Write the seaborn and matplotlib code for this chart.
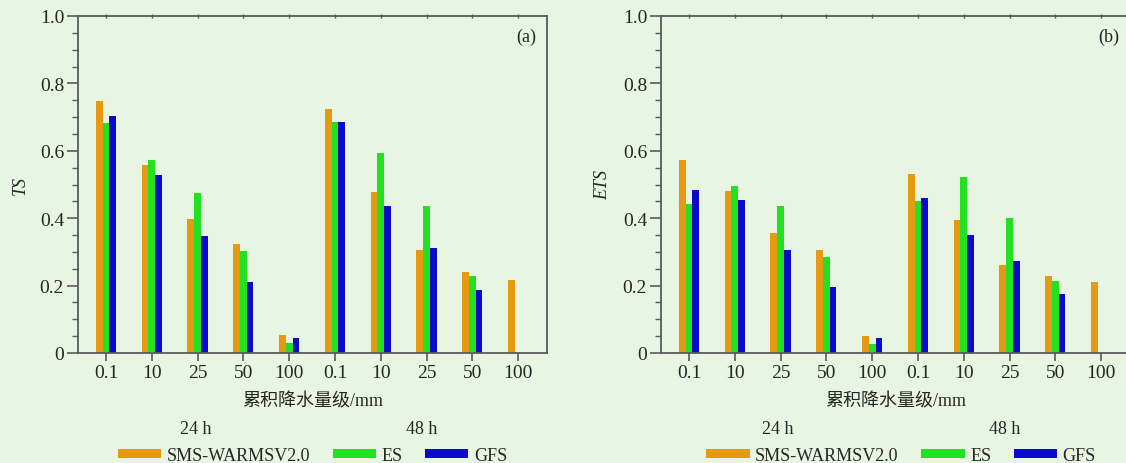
import numpy as np
import pandas as pd
import matplotlib
matplotlib.use("Agg")
import matplotlib.pyplot as plt
import seaborn as sns
from matplotlib.patches import Patch
from matplotlib.ticker import MultipleLocator, FuncFormatter

# ---------------- data ----------------
categories = ["24h-0.1", "24h-10", "24h-25", "24h-50", "24h-100",
              "48h-0.1", "48h-10", "48h-25", "48h-50", "48h-100"]
tick_labels = ["0.1", "10", "25", "50", "100", "0.1", "10", "25", "50", "100"]
models = ["SMS-WARMSV2.0", "ES", "GFS"]

ts_sms = [0.747, 0.557, 0.398, 0.324, 0.053, 0.723, 0.478, 0.306, 0.239, 0.216]
ts_es = [0.683, 0.572, 0.476, 0.302, 0.029, 0.686, 0.593, 0.437, 0.229, np.nan]
ts_gfs = [0.703, 0.529, 0.348, 0.212, 0.045, 0.686, 0.437, 0.311, 0.187, np.nan]

ets_sms = [0.572, 0.480, 0.355, 0.306, 0.051, 0.531, 0.396, 0.262, 0.229, 0.211]
ets_es = [0.442, 0.497, 0.437, 0.285, 0.026, 0.451, 0.522, 0.400, 0.214, np.nan]
ets_gfs = [0.485, 0.454, 0.307, 0.197, 0.044, 0.460, 0.351, 0.274, 0.174, np.nan]

period_labels = ["24 h", "48 h"]
panel_tags = ["(a)", "(b)"]
ylabels = ["TS", "ETS"]
xlabel = "累积降水量级/mm"

colors = {"SMS-WARMSV2.0": "#E59A12", "ES": "#22E022", "GFS": "#0A0ACB"}
bg = "#E8F5E2"


def long_df(a, b, c):
    rows = []
    for m, vals in zip(models, [a, b, c]):
        for cat, v in zip(categories, vals):
            rows.append({"cat": cat, "model": m, "value": v})
    return pd.DataFrame(rows)


sns.set_style("ticks")
plt.rcParams["font.family"] = ["Liberation Serif", "Noto Sans CJK SC"]
plt.rcParams["font.size"] = 12

fig = plt.figure(figsize=(11.26, 4.64), dpi=100, facecolor=bg)

W, H = 1126, 464
ax_w = 469 / W
ax_b = 1 - 354 / H
ax_h = (354 - 17) / H
lefts = [78 / W, 661 / W]
legend_dx = [0.0, 0.012]

datasets = [long_df(ts_sms, ts_es, ts_gfs), long_df(ets_sms, ets_es, ets_gfs)]

spine_col = "#5a5a5a"
for i in range(2):
    ax = fig.add_axes([lefts[i], ax_b, ax_w, ax_h])
    ax.set_facecolor(bg)
    sns.barplot(data=datasets[i], x="cat", y="value", hue="model",
                order=categories, hue_order=models, palette=colors,
                width=0.44, linewidth=0, legend=False, ax=ax,
                errorbar=None, saturation=1)
    ax.set_xlim(-0.61, 9.63)
    ax.set_ylim(0, 1.0)
    ax.set_xticks(range(len(categories)))
    ax.set_xticklabels(tick_labels, fontsize=14)
    ax.yaxis.set_major_locator(MultipleLocator(0.2))
    ax.yaxis.set_minor_locator(MultipleLocator(0.05))
    ax.yaxis.set_major_formatter(FuncFormatter(lambda v, p: "0" if abs(v) < 1e-9 else f"{v:.1f}"))
    ax.tick_params(axis="y", which="major", length=8, width=1.2, color=spine_col,
                   labelsize=14, pad=2)
    ax.tick_params(axis="y", which="minor", length=4, width=1.0, color=spine_col)
    ax.tick_params(axis="x", which="major", length=6, width=1.2, color=spine_col,
                   labelsize=14, pad=2)
    top = ax.secondary_xaxis("top")
    top.set_xticks(range(len(categories)))
    top.set_xticklabels([])
    top.tick_params(length=3, width=1.0, color=spine_col, direction="inout")
    top.spines["top"].set_visible(False)
    for s in ax.spines.values():
        s.set_color(spine_col)
        s.set_linewidth(1.3)
    ax.set_xlabel("")
    ax.set_ylabel(ylabels[i], fontstyle="italic", fontsize=13, labelpad=8)
    ax.text(0.977, 0.94, panel_tags[i], transform=ax.transAxes,
            ha="right", va="center", fontsize=13)
    ax.text(0.5, -0.142, xlabel, transform=ax.transAxes, ha="center",
            va="center", fontsize=13,
            family=["Liberation Serif", "Noto Sans CJK SC"])
    for xp, lab in zip([1.95, 6.9], period_labels):
        ax.text(xp, -0.223, lab, transform=ax.get_xaxis_transform(),
                ha="center", va="center", fontsize=13)
    handles = [Patch(facecolor=colors[m], edgecolor="none", label=m) for m in models]
    leg = ax.legend(handles=handles, loc="center", ncol=3,
                    bbox_to_anchor=(0.5 + legend_dx[i], -0.303),
                    frameon=False, fontsize=13, handlelength=2.4,
                    handleheight=0.4, handletextpad=0.3, columnspacing=1.25,
                    borderaxespad=0)

fig.savefig("out.png", dpi=100, facecolor=bg)
